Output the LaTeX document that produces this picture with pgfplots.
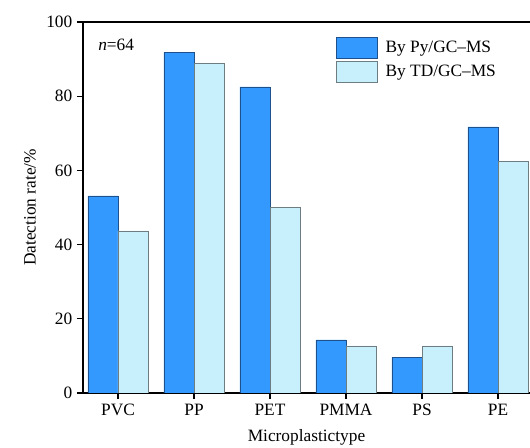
\documentclass[border=0pt]{standalone}
\usepackage{pgfplots}
\pgfplotsset{compat=1.18}
\usepackage{fontspec}
\setmainfont{Liberation Serif}
\definecolor{pyfill}{RGB}{51,153,255}
\definecolor{pyedge}{RGB}{30,80,140}
\definecolor{tdfill}{RGB}{200,240,252}
\definecolor{tdedge}{RGB}{110,125,130}
\begin{document}
\begin{tikzpicture}
\begin{axis}[
  name=ax,
  scale only axis,
  width=335.25pt, height=278.25pt,
  xmin=-0.4605, xmax=5.421,
  ymin=0, ymax=100,
  axis x line=box, axis y line=left,
  axis line style={line width=0.9pt,-},
  xtick={0,1,2,3,4,5},
  xticklabels={PVC,PP,PET,PMMA,PS,PE},
  ytick={0,20,40,60,80,100},
  xtick pos=bottom, ytick pos=left,
  tick align=outside,
  major tick length=4.5pt,
  tick style={line width=0.8pt,black},
  /pgf/number format/assume math mode=true,
  tick label style={font=\fontsize{13}{15}\selectfont},
  label style={font=\fontsize{13}{15}\selectfont},
  xlabel={Microplastictype},
  ylabel={Datection rate/\%},
  xlabel style={at={(axis description cs:0.5,-0.1186)},anchor=center},
  ylabel style={at={(axis description cs:-0.1186,0.5)},anchor=center,rotate=0},
  ybar, bar width=0.395,
  legend style={draw=none, fill=none, at={(axis description cs:0.5649,0.961)}, anchor=north west,
    inner sep=0pt, font=\fontsize{13}{15}\selectfont, row sep=2.25pt,
    nodes={inner sep=1.125pt}, column sep=5pt},
  legend cell align=left,
  legend image code/.code={\draw[#1] (0pt,-7.875pt) rectangle (30.75pt,7.875pt);},
]
\addplot[fill=pyfill, draw=pyedge, line width=0.5pt, bar shift=-0.1975] coordinates {
(0,53.1) (1,91.9) (2,82.5) (3,14.3) (4,9.6) (5,71.7)};
\addplot[fill=tdfill, draw=tdedge, line width=0.5pt, bar shift=0.1975] coordinates {
(0,43.7) (1,88.9) (2,50.0) (3,12.7) (4,12.7) (5,62.5)};
\legend{By Py/GC--MS, By TD/GC--MS}
\node[anchor=west, font=\fontsize{13}{15}\selectfont, inner sep=0pt] at (axis cs:-0.263,93.8) {\textit{n}=64};
\end{axis}
\pgfresetboundingbox
\path ([xshift=-62.25pt,yshift=-41.25pt]ax.south west) rectangle ([yshift=16.5pt]ax.north east);
\end{tikzpicture}
\end{document}
